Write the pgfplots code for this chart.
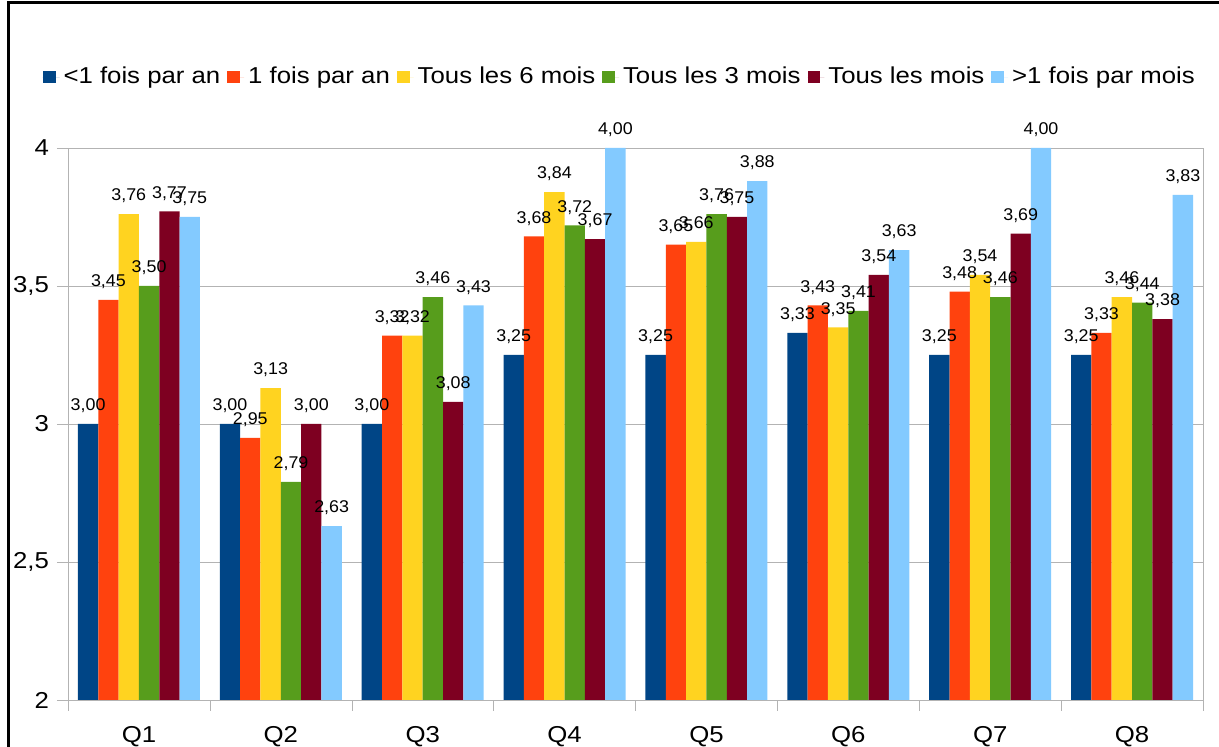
\documentclass[border=0pt]{standalone}
\usepackage{pgfplots}
\pgfplotsset{compat=1.18}
\usepackage{pgfplotstable}
\usepackage{fontspec}
\setmainfont{Liberation Sans}[FakeStretch=1.12]
\newfontfamily\lblfont{Liberation Sans}[FakeStretch=1.05]

\definecolor{cA}{HTML}{004586}
\definecolor{cB}{HTML}{FF420E}
\definecolor{cC}{HTML}{FFD320}
\definecolor{cD}{HTML}{579D1C}
\definecolor{cE}{HTML}{7E0021}
\definecolor{cF}{HTML}{83CAFF}
\definecolor{axgray}{HTML}{B3B3B3}

% mean score per question and frequency group
\pgfplotstableread{
q a    b    c    d    e    f
0 3.00 3.45 3.76 3.50 3.77 3.75
1 3.00 2.95 3.13 2.79 3.00 2.63
2 3.00 3.32 3.32 3.46 3.08 3.43
3 3.25 3.68 3.84 3.72 3.67 4.00
4 3.25 3.65 3.66 3.76 3.75 3.88
5 3.33 3.43 3.35 3.41 3.54 3.63
6 3.25 3.48 3.54 3.46 3.69 4.00
7 3.25 3.33 3.46 3.44 3.38 3.83
}\scores

\pgfplotsset{
  frame geometry/.style={
    at={(0,0)}, anchor=south west,
    scale only axis, width=567.5pt, height=276pt,
    xmin=-0.5, xmax=7.5, ymin=2, ymax=4,
    ybar=0pt, bar width=10.17pt,
  },
}

\begin{document}
\begin{tikzpicture}
% bars, grid, ticks and legend
\begin{axis}[
  frame geometry,
  axis line style={axgray},
  tick align=outside, tick pos=left,
  major tick length=5.5pt,
  tick style={axgray},
  xtick={-0.5,0.5,...,7.5},
  xticklabels={Q1,Q2,Q3,Q4,Q5,Q6,Q7,Q8,{}},
  xticklabel style={xshift=35.47pt, yshift=-4pt},
  ytick={2,2.5,3,3.5,4},
  ymajorgrids, grid style={axgray},
  yticklabel style={xshift=-0.5pt},
  /pgf/number format/assume math mode=true,
  /pgf/number format/use comma,
  tick label style={font=\fontsize{11.5}{13}\selectfont},
  legend image code/.code={\path[#1] (0pt,-3.2pt) rectangle (6.4pt,3.2pt);
                           \path (0pt,0pt) -- (8.4pt,0pt);},
  legend style={at={(0.487,1.1286)}, anchor=center, draw=none, fill=none,
    legend columns=-1, font=\fontsize{11.5}{13}\selectfont,
    /tikz/every even column/.append style={column sep=1.5pt}},
]
\addplot[draw=none, fill=cA] table[x=q, y=a] {\scores};
\addplot[draw=none, fill=cB] table[x=q, y=b] {\scores};
\addplot[draw=none, fill=cC] table[x=q, y=c] {\scores};
\addplot[draw=none, fill=cD] table[x=q, y=d] {\scores};
\addplot[draw=none, fill=cE] table[x=q, y=e] {\scores};
\addplot[draw=none, fill=cF] table[x=q, y=f] {\scores};
\legend{<1 fois par an, 1 fois par an, Tous les 6 mois, Tous les 3 mois, Tous les mois, >1 fois par mois}
\end{axis}
% value labels, set on top of every bar
\begin{axis}[
  frame geometry,
  hide axis, clip=false,
  nodes near coords,
  nodes near coords style={font=\lblfont\fontsize{8.5}{10}\selectfont, black, yshift=2pt,
    /pgf/number format/.cd, fixed, fixed zerofill, precision=2, use comma, assume math mode=true},
]
\addplot[draw=none, fill=none] table[x=q, y=a] {\scores};
\addplot[draw=none, fill=none] table[x=q, y=b] {\scores};
\addplot[draw=none, fill=none] table[x=q, y=c] {\scores};
\addplot[draw=none, fill=none] table[x=q, y=d] {\scores};
\addplot[draw=none, fill=none] table[x=q, y=e] {\scores};
\addplot[draw=none, fill=none] table[x=q, y=f] {\scores};
\end{axis}
% outer frame: left and top edges
\draw[line width=1.5pt] (-29.5pt,-30pt) -- (-29.5pt,348.5pt) -- (580pt,348.5pt);
\pgfresetboundingbox
\useasboundingbox (-34pt,-23.5pt) rectangle (575.5pt,350pt);
\end{tikzpicture}
\end{document}
